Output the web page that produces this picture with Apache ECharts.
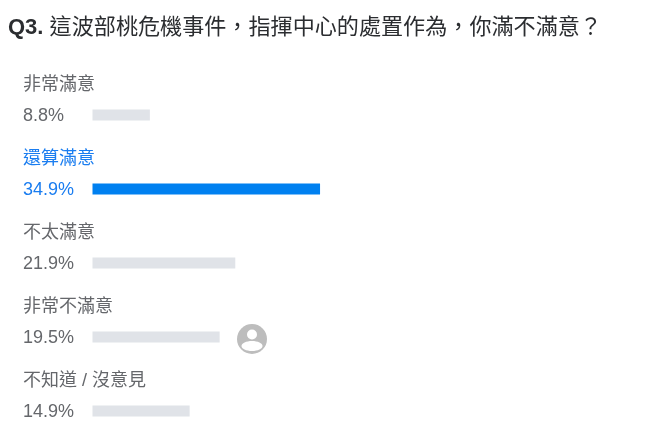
<!DOCTYPE html>
<html><head><meta charset="utf-8">
<style>html,body{margin:0;padding:0;background:#fff}#c{width:656px;height:444px}</style>
<script src="https://cdn.jsdelivr.net/npm/echarts@6/dist/echarts.min.js"></script>
</head><body><div id="c"></div>
<script>
const categories = ['非常滿意','還算滿意','不太滿意','非常不滿意','不知道 / 沒意見'];
const values = [8.8,34.9,21.9,19.5,14.9];
const highlighted = '還算滿意';
const titleLead = 'Q3.';
const titleRest = ' 這波部桃危機事件，指揮中心的處置作為，你滿不滿意？';

const FONT = '"Liberation Sans","Noto Sans CJK TC",sans-serif';
const GREY = '#65676b', BLUE = '#1a7df0', BAR_GREY = '#e0e3e8', BAR_BLUE = '#0080f0';
const line = (c) => ({color:c,fontSize:18,lineHeight:31,fontFamily:FONT,align:'left'});

const chart = echarts.init(document.getElementById('c'),null,{renderer:'canvas'});
chart.setOption({
  backgroundColor:'#fff',
  animation:false,
  title:{
    left:8,top:15,padding:0,
    text:'{a|'+titleLead+'}{b|'+titleRest+'}',
    textStyle:{rich:{
      a:{fontFamily:FONT,fontWeight:'bold',fontSize:22,color:'#2b2d30',lineHeight:26},
      b:{fontFamily:FONT,fontWeight:'normal',fontSize:22.1,color:'#2b2d30',lineHeight:26}
    }}
  },
  grid:{left:92.5,width:391.2,top:78,height:370,containLabel:false,outerBoundsMode:'none'},
  xAxis:{type:'value',min:0,max:60,show:false},
  yAxis:{
    type:'category',inverse:true,data:categories,
    axisLine:{show:false},axisTick:{show:false},splitLine:{show:false},
    axisLabel:{
      align:'left',margin:69.5,interval:0,padding:[2,0,0,0],
      formatter:(name,i)=>{
        const k = name===highlighted?'h':'n';
        return '{'+k+'|'+name+'}\n{'+k+'|'+values[i].toFixed(1)+'%}\n{'+k+'| }';
      },
      rich:{n:line(GREY),h:line(BLUE)}
    }
  },
  series:[{
    type:'bar',barWidth:11,silent:true,
    data:values.map((v,i)=>({value:v,itemStyle:{color:categories[i]===highlighted?BAR_BLUE:BAR_GREY}}))
  }],
  graphic:[{
    type:'group',left:237,top:324,silent:true,
    children:[
      {type:'circle',shape:{cx:15,cy:15,r:15},style:{fill:'#bdbdbd'}},
      {type:'circle',shape:{cx:15,cy:10.5,r:5},style:{fill:'#fff'}},
      {type:'ellipse',shape:{cx:15,cy:22,rx:10.5,ry:5},style:{fill:'#fff'}}
    ]
  }]
});
</script></body></html>
